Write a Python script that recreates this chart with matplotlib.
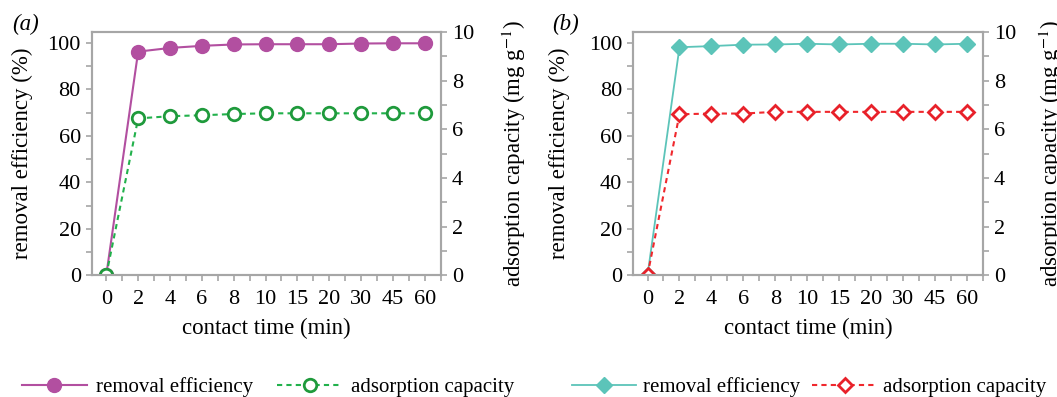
import matplotlib
matplotlib.use("Agg")
import matplotlib.pyplot as plt
from matplotlib.ticker import MultipleLocator

plt.rcParams["font.family"] = ["Liberation Serif", "DejaVu Serif"]
plt.rcParams["mathtext.fontset"] = "stix"

time_labels = ["0", "2", "4", "6", "8", "10", "15", "20", "30", "45", "60"]

eff_a = [0, 96.3, 97.9, 98.8, 99.4, 99.5, 99.5, 99.5, 99.8, 99.9, 99.9]
cap_a = [0, 6.45, 6.54, 6.58, 6.63, 6.66, 6.66, 6.66, 6.66, 6.66, 6.66]

eff_b = [0, 98.2, 98.7, 99.3, 99.4, 99.7, 99.4, 99.7, 99.7, 99.4, 99.7]
cap_b = [0, 6.62, 6.65, 6.65, 6.72, 6.72, 6.72, 6.72, 6.72, 6.72, 6.72]

grey = "#a6a6a6"
tick_fs = 16
label_fs = 16.5
leg_fs = 15

fig = plt.figure(figsize=(10.57, 3.97), dpi=100)


def panel(left, width, eff, cap, eff_style, cap_style, tag, ylab_x, y2lab_x,
          leg_x, colsp, txtpad):
    ax = fig.add_axes([left, 0.307, width, 0.612])
    ax2 = ax.twinx()
    x = list(range(len(time_labels)))

    l1, = ax.plot(x, eff, **eff_style)
    l2, = ax2.plot(x, cap, **cap_style)

    ax.set_xlim(-0.45, 10.5)
    ax.set_ylim(0, 104.7)
    ax2.set_ylim(0, 10)

    ax.set_xticks(x)
    ax.set_xticklabels(time_labels)
    ax.xaxis.set_minor_locator(MultipleLocator(0.5))
    ax.yaxis.set_major_locator(MultipleLocator(20))
    ax.yaxis.set_minor_locator(MultipleLocator(10))
    ax2.yaxis.set_major_locator(MultipleLocator(2))
    ax2.yaxis.set_minor_locator(MultipleLocator(1))

    for a in (ax, ax2):
        for s in a.spines.values():
            s.set_color(grey)
            s.set_linewidth(1.5)
        a.tick_params(which="both", direction="out", color=grey, width=1.2,
                      labelsize=tick_fs, length=4, pad=4)
    ax.tick_params(axis="x", pad=7)

    ax.set_xlabel("contact time (min)", fontsize=label_fs)
    ax.set_ylabel("removal efficiency (%)", fontsize=label_fs)
    ax2.set_ylabel("adsorption capacity (mg g$^{-1}$)", fontsize=label_fs)
    ax.xaxis.set_label_coords(0.5, -0.175)
    ax.yaxis.set_label_coords(ylab_x, 0.5)
    ax2.yaxis.set_label_coords(y2lab_x, 0.5)
    ax.text(-0.23, 1.03, "(" + tag + ")", transform=ax.transAxes,
            fontsize=label_fs, style="italic", va="center")

    fig.legend([l1, l2], ["removal efficiency", "adsorption capacity"],
               loc="center left", bbox_to_anchor=(leg_x, 0.025), ncol=2,
               frameon=False, fontsize=leg_fs, handlelength=3.1,
               columnspacing=colsp, handletextpad=txtpad, borderaxespad=0,
               borderpad=0)


panel(0.087, 0.330,
      eff_a, cap_a,
      dict(color="#b24fa0", lw=1.5, marker="o", ms=10, mfc="#b24fa0", mec="#b24fa0"),
      dict(color="#22b14c", lw=1.5, ls="--", dashes=(2.5, 2), marker="o", ms=9,
           mfc="white", mec="#1f9a3c", mew=2),
      "a", -0.17, 1.17, 0.021, 1.15, 0.45)

panel(0.599, 0.331,
      eff_b, cap_b,
      dict(color="#5cc4b9", lw=1.3, marker="D", ms=8, mfc="#5cc4b9", mec="#5cc4b9"),
      dict(color="#f0282d", lw=1.5, ls="--", dashes=(2.5, 2), marker="D", ms=7,
           mfc="white", mec="#e8212a", mew=2),
      "b", -0.18, 1.155, 0.541, 0.6, 0.3)

fig.savefig("out.png", dpi=100)
